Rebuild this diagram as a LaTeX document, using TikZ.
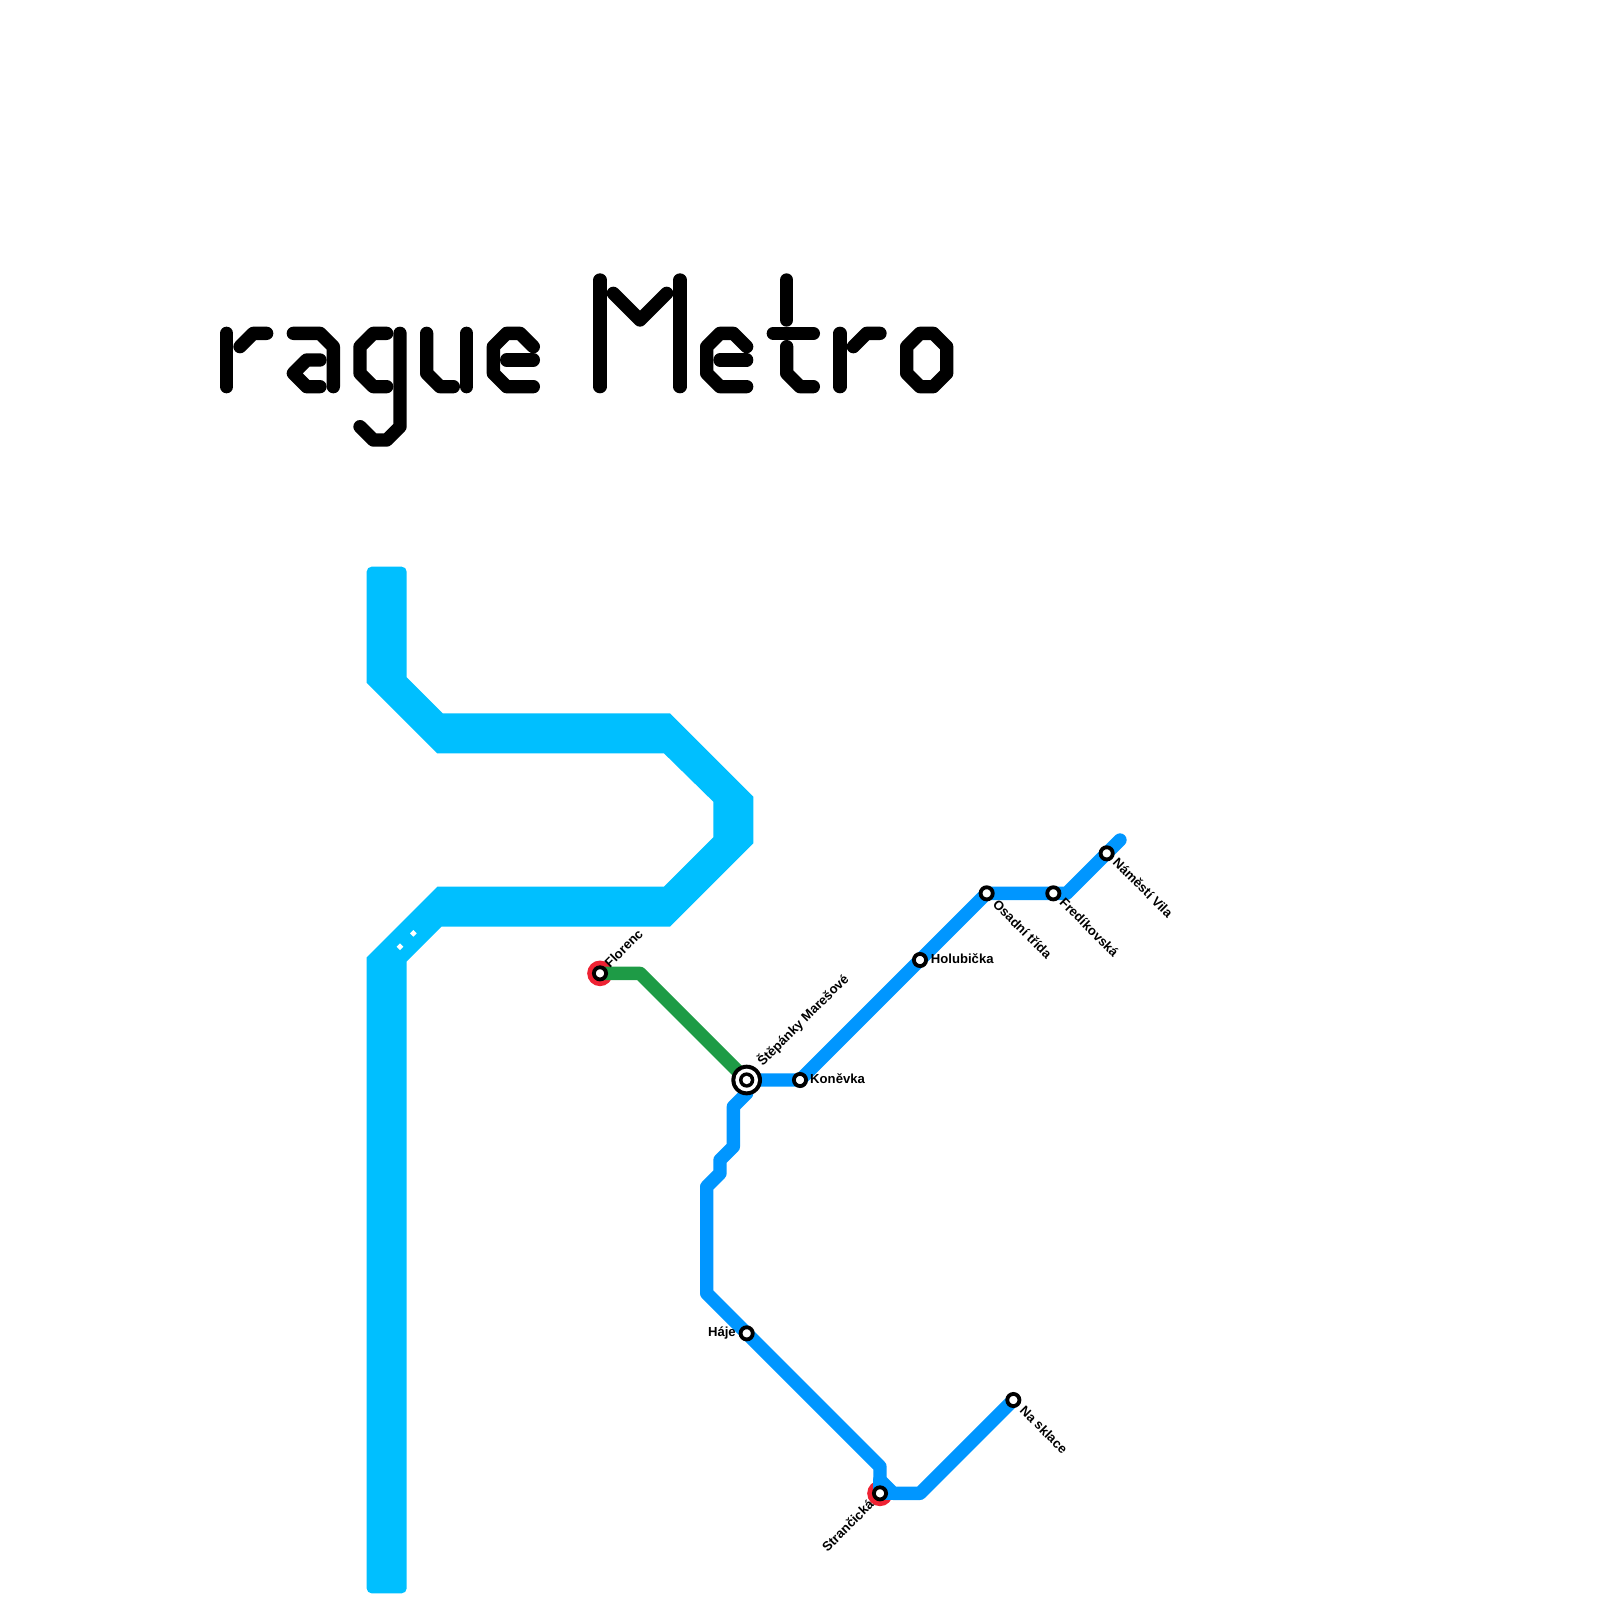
\documentclass[tikz,border=0pt]{standalone}
\usepackage{fontspec}
\setmainfont{Liberation Sans}
\usetikzlibrary{backgrounds}
\definecolor{lineblue}{HTML}{0096FF}
\definecolor{linegreen}{HTML}{1E9B46}
\definecolor{linecyan}{HTML}{00BFFF}
\definecolor{linered}{HTML}{EE2233}
\tikzset{
  x=0.4cm,y=-0.4cm,
  glyph/.style={line width=0.4cm,black,line cap=round,line join=round},
  route/.style={line width=0.4cm,line cap=round,line join=round},
  stop/.style={circle,draw=black,fill=white,line width=1.15mm,minimum size=3.65mm,inner sep=0pt},
  hub/.style={circle,fill=black,minimum size=9.2mm,inner sep=0pt},
  interchange/.style={circle,fill=linered,minimum size=7.7mm,inner sep=0pt},
  lab/.style={font=\fontsize{11.2pt}{11.2pt}\selectfont\bfseries,inner sep=0pt,text=black},
}
\begin{document}
\begin{tikzpicture}
\useasboundingbox (0,0) rectangle (120,120);
% wide band
\fill[linecyan] (27.5,46) [rounded corners=0.15cm] -- (27.5,42.5) -- (30.5,42.5) [sharp corners] -- (30.5,50.8) -- (33.2,53.5) -- (50.25,53.5) -- (56.5,59.75) -- (56.5,63.25) -- (50.25,69.5) -- (33.1,69.5) -- (30.5,72.1) -- (30.5,116) [rounded corners=0.15cm] -- (30.5,119.5) -- (27.5,119.5) [sharp corners] -- (27.5,71.8) -- (32.8,66.5) -- (49.8,66.5) -- (53.5,62.8) -- (53.5,60.13) -- (49.8,56.5) -- (32.8,56.5) -- (27.5,51.2) -- cycle;
\fill[white] (30,70.75) -- (30.25,71) -- (30,71.25) -- (29.75,71) -- cycle;
\fill[white] (31,69.75) -- (31.25,70) -- (31,70.25) -- (30.75,70) -- cycle;
% title strokes
\draw[glyph] (17,25) -- (17,29);
\draw[glyph] (18,26) -- (19,25) -- (20,25);
\draw[glyph] (22,25) -- (24,25) -- (25,26) -- (25,29);
\draw[glyph] (24,27) -- (23,27) -- (22,28) -- (23,29) -- (24,29);
\draw[glyph] (29,25) -- (28,25) -- (27,26) -- (27,28) -- (28,29) -- (29,29);
\draw[glyph] (30,25) -- (30,32) -- (29,33) -- (28,33) -- (27,32);
\draw[glyph] (32,25) -- (32,28) -- (33,29) -- (34,29);
\draw[glyph] (35,25) -- (35,29);
\draw[glyph] (40,26) -- (39,25) -- (38,25) -- (37,26) -- (37,28) -- (38,29) -- (40,29);
\draw[glyph] (38,27) -- (40,27);
\draw[glyph] (45,21) -- (45,29);
\draw[glyph] (51,21) -- (51,29);
\draw[glyph] (46,22) -- (48,24) -- (50,22);
\draw[glyph] (56,26) -- (55,25) -- (54,25) -- (53,26) -- (53,28) -- (54,29) -- (56,29);
\draw[glyph] (54,27) -- (56,27);
\draw[glyph] (59,21) -- (59,24);
\draw[glyph] (58,25) -- (61,25);
\draw[glyph] (59,26) -- (59,28) -- (60,29) -- (61,29);
\draw[glyph] (63,25) -- (63,29);
\draw[glyph] (64,26) -- (65,25) -- (66,25);
\draw[glyph] (68,26) -- (68,28) -- (69,29) -- (70,29) -- (71,28) -- (71,26) -- (70,25) -- (69,25) -- cycle;
% stations
\node[stop] (florenc) at (45,73) {};
\node[hub] (stepanky) at (56,81) {};
\node[circle,fill=white,minimum size=6.8mm,inner sep=0pt] (stepankyA) at (stepanky.center) {};
\node[circle,fill=black,minimum size=4.6mm,inner sep=0pt] (stepankyB) at (stepanky.center) {};
\node[circle,fill=white,minimum size=2.5mm,inner sep=0pt] (stepankyC) at (stepanky.center) {};
\node[stop] (konevka) at (60,81) {};
\node[stop] (holubicka) at (69,72) {};
\node[stop] (osadni) at (74,67) {};
\node[stop] (fredikovska) at (79,67) {};
\node[stop] (vila) at (83,64) {};
\node[stop] (haje) at (56,100) {};
\node[stop] (strancicka) at (66,112) {};
\node[stop] (sklace) at (76,105) {};
% free ends and bends
\coordinate (vilaend) at (84,63);
\coordinate (gbend) at (48,73);
\coordinate (b1) at (80,67);
\coordinate (s1) at (56,82);
\coordinate (s2) at (55,83);
\coordinate (s3) at (55,86);
\coordinate (s4) at (54,87);
\coordinate (s5) at (54,88);
\coordinate (s6) at (53,89);
\coordinate (s7) at (53,97);
\coordinate (s8) at (66,110);
\coordinate (s9) at (66,111);
\coordinate (s10) at (67,112);
\coordinate (s11) at (69,112);
\begin{scope}[on background layer]
\node[interchange] (florencring) at (florenc.center) {};
\node[interchange] (strancickaring) at (strancicka.center) {};
\draw[route,linegreen] (florenc.center) -- (gbend) -- (stepanky.center);
\draw[route,lineblue] (stepanky.center) -- (konevka.center) -- (holubicka.center) -- (osadni.center) -- (fredikovska.center) -- (b1) -- (vila.center) -- (vilaend);
\draw[route,lineblue] (stepanky.center) -- (s1) -- (s2) -- (s3) -- (s4) -- (s5) -- (s6) -- (s7) -- (haje.center) -- (s8) -- (s9) -- (s10) -- (s11) -- (sklace.center);
\draw[route,lineblue] (s9) -- (strancicka.center) -- (s10);
\end{scope}
% labels
\node[lab,rotate=45,anchor=base west] (lflorenc) at (45.75,72.65) {Florenc};
\node[lab,rotate=45,anchor=base west] (lstepanky) at (57.2,80) {Štěpánky Marešové};
\node[lab,anchor=base west] (lkonevka) at (60.75,81.25) {Koněvka};
\node[lab,anchor=base west] (lholubicka) at (69.8,72.25) {Holubička};
\node[lab,rotate=-45,anchor=base west] (losadni) at (74.4,67.9) {Osadní třída};
\node[lab,rotate=-45,anchor=base west] (lfredikovska) at (79.4,67.75) {Fredíkovská};
\node[lab,rotate=-45,anchor=base west] (lvila) at (83.4,64.75) {Náměstí Vila};
\node[lab,anchor=base east] (lhaje) at (55.2,100.2) {Háje};
\node[lab,rotate=-45,anchor=base west] (lsklace) at (76.42,105.85) {Na sklace};
\node[lab,rotate=45,anchor=base east] (lstrancicka) at (65.6,112.9) {Strančická};
\end{tikzpicture}
\end{document}
